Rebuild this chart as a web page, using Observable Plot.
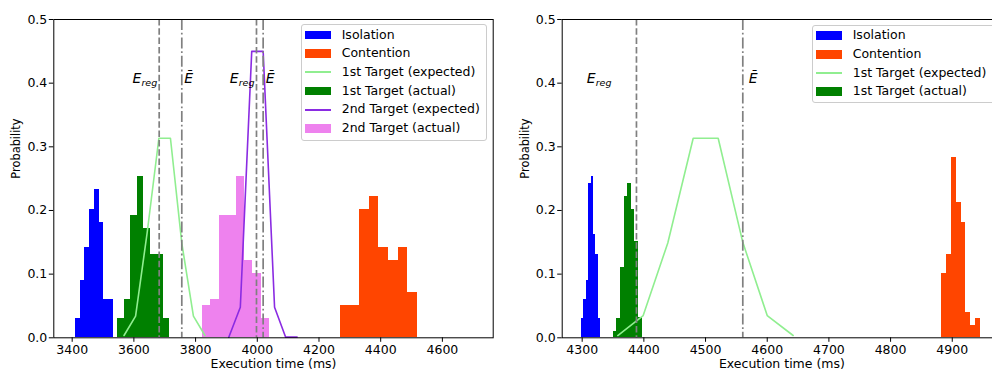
<!DOCTYPE html>
<html>
<head>
<meta charset="utf-8">
<script src="https://cdn.jsdelivr.net/npm/d3@7"></script>
<script src="https://cdn.jsdelivr.net/npm/@observablehq/plot@0.6"></script>
<style>
  html, body { margin: 0; padding: 0; background: #fff; overflow: hidden; }
  #wrap { position: relative; width: 992px; height: 372px; overflow: hidden; font-family: "DejaVu Sans", sans-serif; background: #fff; }
  .panel { position: absolute; top: 0; height: 372px; }
  .panel svg { display: block; max-width: none !important; overflow: visible; }
  .legend { position: absolute; box-sizing: border-box; background: rgba(255,255,255,0.8); border: 1px solid #cccccc; border-radius: 3px; font-size: 12.5px; color: #000; font-family: "DejaVu Sans", sans-serif; }
  .row { position: absolute; left: 0; height: 18.7px; width: 100%; }
  .sw { position: absolute; left: 3.3px; width: 26px; }
  .lab { position: absolute; left: 40px; top: 0; white-space: nowrap; line-height: 18.7px; }
</style>
</head>
<body>
<div id="wrap"></div>
<script>
// ---------- shared axis data ----------
const yDomain = [0, 0.5];
const yTicks = [0, 0.1, 0.2, 0.3, 0.4, 0.5];
const leftXDomain = [3340.4, 4764.7];
const leftXTicks = [3400, 3600, 3800, 4000, 4200, 4400, 4600];
const rightXDomain = [4267.6, 4980];
const rightXTicks = [4300, 4400, 4500, 4600, 4700, 4800, 4900];
const xLabel = "Execution time (ms)";
const yLabel = "Probability";
const labelLevel = 0.4;

// ---------- left panel (two targets) ----------
const leftIsoEdges = [3410.7, 3426.0, 3441.3, 3456.5, 3471.8, 3487.1, 3502.4, 3517.7, 3533.0];
const leftIsoProb  = [0.031, 0.0905, 0.142, 0.2015, 0.233, 0.181, 0.060, 0.060];
const leftConEdges = [4269.7, 4300.9, 4332.1, 4363.3, 4394.5, 4425.7, 4456.9, 4488.1, 4519.3];
const leftConProb  = [0.0507, 0.0507, 0.2015, 0.2225, 0.1418, 0.1214, 0.1418, 0.0712];
const leftT1Edges  = [3547.9, 3568.8, 3589.8, 3610.7, 3631.7, 3652.6, 3673.5, 3694.5, 3715.4];
const leftT1Prob   = [0.031, 0.060, 0.1926, 0.254, 0.1717, 0.1307, 0.1307, 0.031];
const leftT2Edges  = [3822.4, 3849.5, 3876.7, 3903.8, 3931.0, 3958.1, 3985.2, 4012.4, 4039.5];
const leftT2Prob   = [0.0507, 0.060, 0.192, 0.192, 0.253, 0.1214, 0.1005, 0.0303];
const leftT1ExpX   = [3568, 3605.5, 3643, 3681, 3718.5, 3755.5, 3793, 3830.5];
const leftT1ExpY   = [0.0036, 0.034, 0.165, 0.3135, 0.3135, 0.148, 0.034, 0.0036];
const leftT2ExpX   = [3907.6, 3945, 3982, 4019, 4056, 4092, 4129];
const leftT2ExpY   = [0.001, 0.048, 0.450, 0.450, 0.048, 0.001, 0.001];
const leftEreg     = [3682, 3997.4];
const leftEbar     = [3755.3, 4019];

// ---------- right panel (one target) ----------
const rightIsoEdges = [4298.9, 4302.75, 4306.6, 4310.45, 4314.3, 4318.15, 4322.0, 4325.85, 4329.7];
const rightIsoProb  = [0.030, 0.0597, 0.090, 0.242, 0.2534, 0.1618, 0.1304, 0.030];
const rightConEdges = [4882.6, 4890.5, 4898.45, 4906.4, 4914.3, 4922.2, 4930.2, 4938.1, 4946.0];
const rightConProb  = [0.1015, 0.1309, 0.2837, 0.213, 0.1816, 0.0402, 0.0193, 0.0298];
const rightT1Edges  = [4350.2, 4356.1, 4362.0, 4367.9, 4373.8, 4379.6, 4385.5, 4391.4, 4397.3];
const rightT1Prob   = [0.0099, 0.030, 0.111, 0.222, 0.243, 0.2015, 0.152, 0.032];
const rightT1ExpX   = [4357.7, 4398.9, 4438.8, 4480, 4520.5, 4560.4, 4600, 4642];
const rightT1ExpY   = [0.0036, 0.035, 0.149, 0.3135, 0.3135, 0.15, 0.035, 0.0036];
const rightEreg     = [4388];
const rightEbar     = [4560.4];

// ---------- legend entries ----------
const leftSeries  = ["Isolation", "Contention", "1st Target (expected)", "1st Target (actual)", "2nd Target (expected)", "2nd Target (actual)"];
const rightSeries = ["Isolation", "Contention", "1st Target (expected)", "1st Target (actual)"];

// ---------- styles ----------
const COLORS = {
  "Isolation": "#0000ff",
  "Contention": "#ff4500",
  "1st Target (expected)": "#90ee90",
  "1st Target (actual)": "#008000",
  "2nd Target (expected)": "#8a2be2",
  "2nd Target (actual)": "#ee82ee"
};
const KIND = {
  "Isolation": "patch", "Contention": "patch",
  "1st Target (expected)": "line", "1st Target (actual)": "patch",
  "2nd Target (expected)": "line", "2nd Target (actual)": "patch"
};
const REF = "#808080";

const bins = (edges, probs) => probs.map((p, i) => ({x1: edges[i], x2: edges[i + 1], p}));
const pts = (xs, ys) => xs.map((x, i) => ({x, y: ys[i]}));

const hist = (edges, probs, name) =>
  Plot.rect(bins(edges, probs), {x1: "x1", x2: "x2", y1: 0, y2: "p", fill: COLORS[name], shapeRendering: "crispEdges"});
const curve = (xs, ys, name) =>
  Plot.line(pts(xs, ys), {x: "x", y: "y", stroke: COLORS[name], strokeWidth: 1.6});
const refMarks = (ereg, ebar, eregDx, ebarDx) => [
  Plot.ruleX(ereg, {x: d => d, stroke: REF, strokeWidth: 1.7, strokeDasharray: "6.5,2.8"}),
  Plot.ruleX(ebar, {x: d => d, stroke: REF, strokeWidth: 1.7, strokeDasharray: "11,2.8,1.8,2.8"}),
  Plot.text(ereg, {x: d => d, y: () => labelLevel, text: () => "E_reg", textAnchor: "end", lineAnchor: "bottom", dx: eregDx, fontSize: 14, fill: "#000"}),
  Plot.text(ebar, {x: d => d, y: () => labelLevel, text: () => "\u0112", textAnchor: "start", lineAnchor: "bottom", dx: ebarDx, fontSize: 14, fontStyle: "italic", fill: "#000"})
];

const wrap = document.getElementById("wrap");
const NS = "http://www.w3.org/2000/svg";

function makePanel({left, width, marginLeft, marginRight, domain, ticks, marks}) {
  const svg = Plot.plot({
    width, height: 372,
    marginLeft, marginRight, marginTop: 19, marginBottom: 34.7,
    style: {fontFamily: "'DejaVu Sans', sans-serif", fontSize: "12.5px", color: "#000", background: "transparent", overflow: "visible"},
    x: {domain, ticks, tickFormat: d3.format("d"), tickSize: 4.5, tickPadding: 2.5, label: null},
    y: {domain: yDomain, ticks: yTicks, tickFormat: d3.format(".1f"), tickSize: 4.5, tickPadding: 2, label: null},
    marks: [
      ...marks,
      Plot.frame({stroke: "#000", strokeWidth: 1}),
      Plot.text([xLabel], {text: d => d, frameAnchor: "bottom", dy: 26.6, lineAnchor: "middle", fontSize: 12.5, fill: "#000"}),
      Plot.text([yLabel], {text: d => d, frameAnchor: "left", dx: -37.3, rotate: -90, lineAnchor: "middle", fontSize: 11.4, fill: "#000"})
    ]
  });
  // math-style labels: italic E with subscript "reg"
  svg.querySelectorAll("text").forEach(t => {
    if (t.textContent === "E_reg") {
      t.textContent = "";
      const e = document.createElementNS(NS, "tspan");
      e.setAttribute("font-style", "italic");
      e.setAttribute("font-size", "14");
      e.textContent = "E";
      const s = document.createElementNS(NS, "tspan");
      s.setAttribute("font-style", "italic");
      s.setAttribute("font-size", "9.5");
      s.setAttribute("dy", "3");
      s.textContent = "reg";
      t.append(e, s);
    }
  });
  const div = document.createElement("div");
  div.className = "panel";
  div.style.left = left + "px";
  div.style.width = width + "px";
  div.append(svg);
  wrap.append(div);
}

function makeLegend(series, {left, top, width, height}) {
  const box = document.createElement("div");
  box.className = "legend";
  Object.assign(box.style, {left: left + "px", top: top + "px", width: width + "px", height: height + "px"});
  const step = 18.7;
  series.forEach((name, i) => {
    const row = document.createElement("div");
    row.className = "row";
    row.style.top = (0.3 + i * step) + "px";
    const sw = document.createElement("div");
    sw.className = "sw";
    const h = KIND[name] === "patch" ? 8.7 : 1.8;
    sw.style.height = h + "px";
    sw.style.top = ((step - h) / 2) + "px";
    sw.style.background = COLORS[name];
    const lab = document.createElement("div");
    lab.className = "lab";
    lab.textContent = name;
    row.append(sw, lab);
    box.append(row);
  });
  wrap.append(box);
}

makePanel({
  left: 0, width: 500, marginLeft: 53.3, marginRight: 7.3,
  domain: leftXDomain, ticks: leftXTicks,
  marks: [
    hist(leftIsoEdges, leftIsoProb, "Isolation"),
    hist(leftConEdges, leftConProb, "Contention"),
    hist(leftT1Edges, leftT1Prob, "1st Target (actual)"),
    hist(leftT2Edges, leftT2Prob, "2nd Target (actual)"),
    curve(leftT1ExpX, leftT1ExpY, "1st Target (expected)"),
    curve(leftT2ExpX, leftT2ExpY, "2nd Target (expected)"),
    ...refMarks(leftEreg, leftEbar, -2, 2.5)
  ]
});

makePanel({
  left: 500, width: 510, marginLeft: 61.7, marginRight: 8.9,
  domain: rightXDomain, ticks: rightXTicks,
  marks: [
    hist(rightIsoEdges, rightIsoProb, "Isolation"),
    hist(rightConEdges, rightConProb, "Contention"),
    hist(rightT1Edges, rightT1Prob, "1st Target (actual)"),
    curve(rightT1ExpX, rightT1ExpY, "1st Target (expected)"),
    ...refMarks(rightEreg, rightEbar, -25, 6)
  ]
});

makeLegend(leftSeries, {left: 300.7, top: 24.3, width: 186, height: 116.4});
makeLegend(rightSeries, {left: 811.7, top: 25, width: 183, height: 78.3});
</script>
</body>
</html>
